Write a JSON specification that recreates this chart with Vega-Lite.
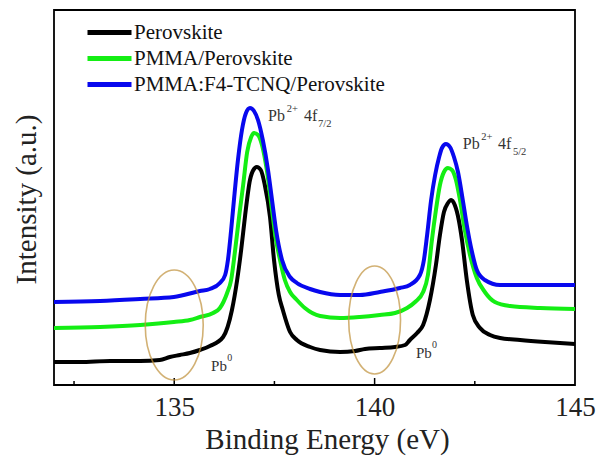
{
  "$schema": "https://vega.github.io/schema/vega-lite/v6.json",
  "width": 521,
  "height": 375,
  "autosize": {"type": "none"},
  "padding": {"left": 54, "top": 10, "right": 24, "bottom": 74},
  "background": "#ffffff",
  "config": {
    "font": "Liberation Serif, Times New Roman, DejaVu Serif, serif",
    "view": {"stroke": "#000000", "strokeWidth": 1.8},
    "axis": {"grid": false, "domain": false, "labelFont": "Liberation Serif, Times New Roman, DejaVu Serif, serif", "titleFont": "Liberation Serif, Times New Roman, DejaVu Serif, serif"},
    "legend": {"labelFont": "Liberation Serif, Times New Roman, DejaVu Serif, serif"},
    "text": {"font": "Liberation Serif, Times New Roman, DejaVu Serif, serif"}
  },
  "datasets": {
    "spectra": [
      {"s": "Perovskite", "x": 132.00, "y": 23}, {"s": "Perovskite", "x": 132.65, "y": 23}, {"s": "Perovskite", "x": 133.40, "y": 24}, {"s": "Perovskite", "x": 134.15, "y": 24}, {"s": "Perovskite", "x": 134.64, "y": 25}, {"s": "Perovskite", "x": 134.89, "y": 28}, {"s": "Perovskite", "x": 135.14, "y": 30}, {"s": "Perovskite", "x": 135.39, "y": 32}, {"s": "Perovskite", "x": 135.64, "y": 35}, {"s": "Perovskite", "x": 135.89, "y": 39}, {"s": "Perovskite", "x": 136.22, "y": 48}, {"s": "Perovskite", "x": 136.44, "y": 75}, {"s": "Perovskite", "x": 136.57, "y": 105}, {"s": "Perovskite", "x": 136.67, "y": 135}, {"s": "Perovskite", "x": 136.77, "y": 170}, {"s": "Perovskite", "x": 136.89, "y": 205}, {"s": "Perovskite", "x": 136.99, "y": 216}, {"s": "Perovskite", "x": 137.06, "y": 218}, {"s": "Perovskite", "x": 137.16, "y": 215}, {"s": "Perovskite", "x": 137.26, "y": 200}, {"s": "Perovskite", "x": 137.39, "y": 168}, {"s": "Perovskite", "x": 137.49, "y": 125}, {"s": "Perovskite", "x": 137.61, "y": 90}, {"s": "Perovskite", "x": 137.71, "y": 75}, {"s": "Perovskite", "x": 137.89, "y": 53}, {"s": "Perovskite", "x": 138.06, "y": 45}, {"s": "Perovskite", "x": 138.39, "y": 38}, {"s": "Perovskite", "x": 138.64, "y": 35}, {"s": "Perovskite", "x": 139.14, "y": 33}, {"s": "Perovskite", "x": 139.51, "y": 34}, {"s": "Perovskite", "x": 139.76, "y": 36}, {"s": "Perovskite", "x": 140.13, "y": 37}, {"s": "Perovskite", "x": 140.51, "y": 38}, {"s": "Perovskite", "x": 140.76, "y": 40}, {"s": "Perovskite", "x": 140.88, "y": 45}, {"s": "Perovskite", "x": 141.06, "y": 52}, {"s": "Perovskite", "x": 141.21, "y": 60}, {"s": "Perovskite", "x": 141.38, "y": 85}, {"s": "Perovskite", "x": 141.53, "y": 120}, {"s": "Perovskite", "x": 141.63, "y": 150}, {"s": "Perovskite", "x": 141.73, "y": 173}, {"s": "Perovskite", "x": 141.83, "y": 182}, {"s": "Perovskite", "x": 141.91, "y": 185}, {"s": "Perovskite", "x": 142.00, "y": 180}, {"s": "Perovskite", "x": 142.10, "y": 165}, {"s": "Perovskite", "x": 142.18, "y": 145}, {"s": "Perovskite", "x": 142.30, "y": 105}, {"s": "Perovskite", "x": 142.45, "y": 70}, {"s": "Perovskite", "x": 142.63, "y": 57}, {"s": "Perovskite", "x": 142.88, "y": 50}, {"s": "Perovskite", "x": 143.13, "y": 47}, {"s": "Perovskite", "x": 143.63, "y": 45}, {"s": "Perovskite", "x": 144.25, "y": 43}, {"s": "Perovskite", "x": 145.00, "y": 41},

      {"s": "PMMA/Perovskite", "x": 132.00, "y": 57}, {"s": "PMMA/Perovskite", "x": 133.15, "y": 58}, {"s": "PMMA/Perovskite", "x": 134.15, "y": 60}, {"s": "PMMA/Perovskite", "x": 134.99, "y": 63}, {"s": "PMMA/Perovskite", "x": 135.39, "y": 65}, {"s": "PMMA/Perovskite", "x": 135.64, "y": 68}, {"s": "PMMA/Perovskite", "x": 135.97, "y": 72}, {"s": "PMMA/Perovskite", "x": 136.14, "y": 77}, {"s": "PMMA/Perovskite", "x": 136.32, "y": 92}, {"s": "PMMA/Perovskite", "x": 136.42, "y": 105}, {"s": "PMMA/Perovskite", "x": 136.52, "y": 135}, {"s": "PMMA/Perovskite", "x": 136.63, "y": 172}, {"s": "PMMA/Perovskite", "x": 136.72, "y": 200}, {"s": "PMMA/Perovskite", "x": 136.82, "y": 233}, {"s": "PMMA/Perovskite", "x": 136.92, "y": 248}, {"s": "PMMA/Perovskite", "x": 136.99, "y": 252}, {"s": "PMMA/Perovskite", "x": 137.09, "y": 250}, {"s": "PMMA/Perovskite", "x": 137.19, "y": 240}, {"s": "PMMA/Perovskite", "x": 137.31, "y": 215}, {"s": "PMMA/Perovskite", "x": 137.44, "y": 175}, {"s": "PMMA/Perovskite", "x": 137.54, "y": 145}, {"s": "PMMA/Perovskite", "x": 137.64, "y": 125}, {"s": "PMMA/Perovskite", "x": 137.76, "y": 105}, {"s": "PMMA/Perovskite", "x": 137.89, "y": 93}, {"s": "PMMA/Perovskite", "x": 138.06, "y": 85}, {"s": "PMMA/Perovskite", "x": 138.26, "y": 77}, {"s": "PMMA/Perovskite", "x": 138.64, "y": 69}, {"s": "PMMA/Perovskite", "x": 139.14, "y": 67}, {"s": "PMMA/Perovskite", "x": 139.63, "y": 68}, {"s": "PMMA/Perovskite", "x": 140.13, "y": 70}, {"s": "PMMA/Perovskite", "x": 140.51, "y": 72}, {"s": "PMMA/Perovskite", "x": 140.81, "y": 77}, {"s": "PMMA/Perovskite", "x": 141.01, "y": 83}, {"s": "PMMA/Perovskite", "x": 141.21, "y": 93}, {"s": "PMMA/Perovskite", "x": 141.33, "y": 110}, {"s": "PMMA/Perovskite", "x": 141.43, "y": 145}, {"s": "PMMA/Perovskite", "x": 141.53, "y": 175}, {"s": "PMMA/Perovskite", "x": 141.63, "y": 200}, {"s": "PMMA/Perovskite", "x": 141.73, "y": 213}, {"s": "PMMA/Perovskite", "x": 141.83, "y": 217}, {"s": "PMMA/Perovskite", "x": 141.93, "y": 215}, {"s": "PMMA/Perovskite", "x": 142.03, "y": 205}, {"s": "PMMA/Perovskite", "x": 142.13, "y": 185}, {"s": "PMMA/Perovskite", "x": 142.25, "y": 155}, {"s": "PMMA/Perovskite", "x": 142.38, "y": 130}, {"s": "PMMA/Perovskite", "x": 142.55, "y": 107}, {"s": "PMMA/Perovskite", "x": 142.75, "y": 93}, {"s": "PMMA/Perovskite", "x": 143.00, "y": 83}, {"s": "PMMA/Perovskite", "x": 143.38, "y": 79}, {"s": "PMMA/Perovskite", "x": 144.13, "y": 77}, {"s": "PMMA/Perovskite", "x": 145.00, "y": 76},

      {"s": "PMMA:F4-TCNQ/Perovskite", "x": 132.00, "y": 83}, {"s": "PMMA:F4-TCNQ/Perovskite", "x": 133.15, "y": 84}, {"s": "PMMA:F4-TCNQ/Perovskite", "x": 134.15, "y": 86}, {"s": "PMMA:F4-TCNQ/Perovskite", "x": 134.99, "y": 88}, {"s": "PMMA:F4-TCNQ/Perovskite", "x": 135.64, "y": 94}, {"s": "PMMA:F4-TCNQ/Perovskite", "x": 135.89, "y": 96}, {"s": "PMMA:F4-TCNQ/Perovskite", "x": 136.14, "y": 102}, {"s": "PMMA:F4-TCNQ/Perovskite", "x": 136.27, "y": 110}, {"s": "PMMA:F4-TCNQ/Perovskite", "x": 136.34, "y": 125}, {"s": "PMMA:F4-TCNQ/Perovskite", "x": 136.42, "y": 155}, {"s": "PMMA:F4-TCNQ/Perovskite", "x": 136.49, "y": 185}, {"s": "PMMA:F4-TCNQ/Perovskite", "x": 136.59, "y": 225}, {"s": "PMMA:F4-TCNQ/Perovskite", "x": 136.69, "y": 255}, {"s": "PMMA:F4-TCNQ/Perovskite", "x": 136.79, "y": 272}, {"s": "PMMA:F4-TCNQ/Perovskite", "x": 136.89, "y": 277}, {"s": "PMMA:F4-TCNQ/Perovskite", "x": 136.99, "y": 274}, {"s": "PMMA:F4-TCNQ/Perovskite", "x": 137.09, "y": 265}, {"s": "PMMA:F4-TCNQ/Perovskite", "x": 137.21, "y": 245}, {"s": "PMMA:F4-TCNQ/Perovskite", "x": 137.34, "y": 215}, {"s": "PMMA:F4-TCNQ/Perovskite", "x": 137.44, "y": 185}, {"s": "PMMA:F4-TCNQ/Perovskite", "x": 137.54, "y": 155}, {"s": "PMMA:F4-TCNQ/Perovskite", "x": 137.69, "y": 125}, {"s": "PMMA:F4-TCNQ/Perovskite", "x": 137.89, "y": 108}, {"s": "PMMA:F4-TCNQ/Perovskite", "x": 138.06, "y": 102}, {"s": "PMMA:F4-TCNQ/Perovskite", "x": 138.39, "y": 96}, {"s": "PMMA:F4-TCNQ/Perovskite", "x": 138.64, "y": 93}, {"s": "PMMA:F4-TCNQ/Perovskite", "x": 139.14, "y": 90}, {"s": "PMMA:F4-TCNQ/Perovskite", "x": 139.63, "y": 90}, {"s": "PMMA:F4-TCNQ/Perovskite", "x": 140.13, "y": 93}, {"s": "PMMA:F4-TCNQ/Perovskite", "x": 140.63, "y": 97}, {"s": "PMMA:F4-TCNQ/Perovskite", "x": 140.88, "y": 100}, {"s": "PMMA:F4-TCNQ/Perovskite", "x": 141.13, "y": 110}, {"s": "PMMA:F4-TCNQ/Perovskite", "x": 141.23, "y": 125}, {"s": "PMMA:F4-TCNQ/Perovskite", "x": 141.31, "y": 150}, {"s": "PMMA:F4-TCNQ/Perovskite", "x": 141.41, "y": 185}, {"s": "PMMA:F4-TCNQ/Perovskite", "x": 141.51, "y": 210}, {"s": "PMMA:F4-TCNQ/Perovskite", "x": 141.61, "y": 228}, {"s": "PMMA:F4-TCNQ/Perovskite", "x": 141.68, "y": 237}, {"s": "PMMA:F4-TCNQ/Perovskite", "x": 141.78, "y": 241}, {"s": "PMMA:F4-TCNQ/Perovskite", "x": 141.88, "y": 238}, {"s": "PMMA:F4-TCNQ/Perovskite", "x": 141.98, "y": 228}, {"s": "PMMA:F4-TCNQ/Perovskite", "x": 142.08, "y": 213}, {"s": "PMMA:F4-TCNQ/Perovskite", "x": 142.20, "y": 185}, {"s": "PMMA:F4-TCNQ/Perovskite", "x": 142.30, "y": 160}, {"s": "PMMA:F4-TCNQ/Perovskite", "x": 142.43, "y": 133}, {"s": "PMMA:F4-TCNQ/Perovskite", "x": 142.55, "y": 115}, {"s": "PMMA:F4-TCNQ/Perovskite", "x": 142.75, "y": 105}, {"s": "PMMA:F4-TCNQ/Perovskite", "x": 143.13, "y": 100}, {"s": "PMMA:F4-TCNQ/Perovskite", "x": 143.88, "y": 100}, {"s": "PMMA:F4-TCNQ/Perovskite", "x": 145.00, "y": 100}
    ],
    "notes": [
      {"t": "Pb", "x": 137.34, "y": 264, "k": "main"},
      {"t": "2+", "x": 137.81, "y": 273, "k": "sup"},
      {"t": "4f", "x": 138.24, "y": 264, "k": "main"},
      {"t": "7/2", "x": 138.59, "y": 258, "k": "sub"},
      {"t": "Pb", "x": 142.20, "y": 236, "k": "main"},
      {"t": "2+", "x": 142.66, "y": 245, "k": "sup"},
      {"t": "4f", "x": 143.08, "y": 236, "k": "main"},
      {"t": "5/2", "x": 143.45, "y": 230, "k": "sub"},
      {"t": "Pb", "x": 135.92, "y": 14, "k": "small"},
      {"t": "0", "x": 136.32, "y": 24, "k": "tiny"},
      {"t": "Pb", "x": 141.03, "y": 27, "k": "small"},
      {"t": "0", "x": 141.43, "y": 37, "k": "tiny"}
    ],
    "ticks": [
      {"v": 132.5, "kind": "minor"}, {"v": 135, "kind": "major"}, {"v": 137.5, "kind": "minor"},
      {"v": 140, "kind": "major"}, {"v": 142.5, "kind": "minor"}
    ],
    "rings": [
      {"ring": "left", "x": 135.0, "y": 60},
      {"ring": "right", "x": 140.0, "y": 65}
    ]
  },
  "layer": [
    {
      "data": {"name": "ticks"},
      "transform": [{"filter": "datum.kind === 'minor'"}],
      "mark": {"type": "rule", "color": "#000000", "strokeWidth": 1.5},
      "encoding": {"x": {"field": "v", "type": "quantitative"}, "y": {"datum": 0}, "y2": {"datum": 4}}
    },
    {
      "data": {"name": "ticks"},
      "transform": [{"filter": "datum.kind === 'major'"}],
      "mark": {"type": "rule", "color": "#000000", "strokeWidth": 1.5},
      "encoding": {"x": {"field": "v", "type": "quantitative"}, "y": {"datum": 0}, "y2": {"datum": 7}}
    },
    {
      "data": {"name": "spectra"},
      "mark": {"type": "line", "strokeWidth": 4, "interpolate": "monotone"},
      "encoding": {
        "x": {"field": "x", "type": "quantitative", "scale": {"domain": [132, 145], "nice": false, "zero": false},
          "axis": {
            "values": [135, 140, 145],
            "ticks": false,
            "labelFontSize": 27, "labelColor": "#222222", "labelPadding": 9, "labelFlush": false,
            "title": "Binding Energy (eV)", "titleFontSize": 29, "titleFontWeight": "normal", "titleColor": "#222222",
            "titleX": 273, "titleY": 63, "titleBaseline": "alphabetic", "titleAlign": "center", "titleAnchor": null
          }},
        "y": {"field": "y", "type": "quantitative", "scale": {"domain": [0, 375], "nice": false, "zero": false},
          "axis": {
            "ticks": false, "labels": false,
            "title": "Intensity (a.u.)", "titleFontSize": 29, "titleFontWeight": "normal", "titleColor": "#222222",
            "titleX": -19, "titleY": 189, "titleAngle": -90, "titleBaseline": "alphabetic", "titleAlign": "center", "titleAnchor": null
          }},
        "color": {"field": "s", "type": "nominal",
          "scale": {"domain": ["Perovskite", "PMMA/Perovskite", "PMMA:F4-TCNQ/Perovskite"], "range": ["#000000", "#14ee14", "#0808ee"]},
          "legend": {"title": null, "orient": "none", "legendX": 42, "legendY": 9, "padding": 0,
            "symbolType": "M -2 0 L 2 0", "symbolSize": 484, "symbolStrokeWidth": 5,
            "labelFontSize": 21, "labelColor": "#111111", "labelOffset": 11, "labelLimit": 400, "rowPadding": 2}},
        "order": {"field": "x", "type": "quantitative"}
      }
    },
    {
      "data": {"name": "rings"},
      "transform": [{"filter": "datum.ring === 'left'"}],
      "mark": {"type": "point", "filled": false, "stroke": "#c0913a", "strokeWidth": 1.6, "size": 12100,
        "shape": "M -0.527 0 A 0.527 1 0 1 0 0.527 0 A 0.527 1 0 1 0 -0.527 0 Z"},
      "encoding": {"x": {"field": "x", "type": "quantitative"}, "y": {"field": "y", "type": "quantitative"}}
    },
    {
      "data": {"name": "rings"},
      "transform": [{"filter": "datum.ring === 'right'"}],
      "mark": {"type": "point", "filled": false, "stroke": "#c0913a", "strokeWidth": 1.6, "size": 11664,
        "shape": "M -0.48 0 A 0.48 1 0 1 0 0.48 0 A 0.48 1 0 1 0 -0.48 0 Z"},
      "encoding": {"x": {"field": "x", "type": "quantitative"}, "y": {"field": "y", "type": "quantitative"}}
    },
    {
      "data": {"name": "notes"},
      "transform": [{"filter": "datum.k === 'main'"}],
      "mark": {"type": "text", "align": "left", "baseline": "alphabetic", "fontSize": 16, "color": "#333333"},
      "encoding": {"x": {"field": "x", "type": "quantitative"}, "y": {"field": "y", "type": "quantitative"}, "text": {"field": "t"}}
    },
    {
      "data": {"name": "notes"},
      "transform": [{"filter": "datum.k === 'sup' || datum.k === 'sub'"}],
      "mark": {"type": "text", "align": "left", "baseline": "alphabetic", "fontSize": 10.5, "color": "#333333"},
      "encoding": {"x": {"field": "x", "type": "quantitative"}, "y": {"field": "y", "type": "quantitative"}, "text": {"field": "t"}}
    },
    {
      "data": {"name": "notes"},
      "transform": [{"filter": "datum.k === 'small'"}],
      "mark": {"type": "text", "align": "left", "baseline": "alphabetic", "fontSize": 15, "color": "#333333"},
      "encoding": {"x": {"field": "x", "type": "quantitative"}, "y": {"field": "y", "type": "quantitative"}, "text": {"field": "t"}}
    },
    {
      "data": {"name": "notes"},
      "transform": [{"filter": "datum.k === 'tiny'"}],
      "mark": {"type": "text", "align": "left", "baseline": "alphabetic", "fontSize": 10, "color": "#333333"},
      "encoding": {"x": {"field": "x", "type": "quantitative"}, "y": {"field": "y", "type": "quantitative"}, "text": {"field": "t"}}
    }
  ]
}
